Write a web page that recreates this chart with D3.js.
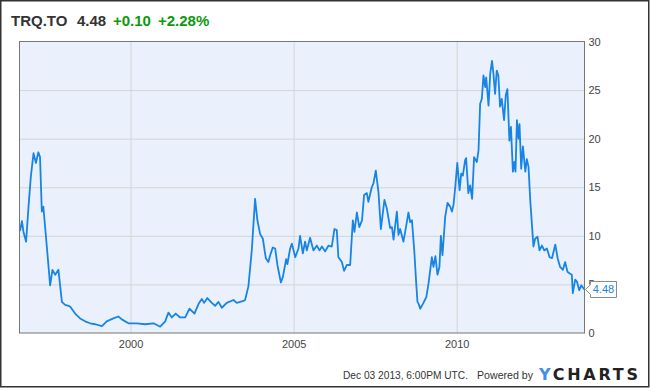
<!DOCTYPE html>
<html>
<head>
<meta charset="utf-8">
<script src="https://cdn.jsdelivr.net/npm/d3@7"></script>
<style>
  html, body { margin: 0; padding: 0; background: #fff; }
  svg { display: block; font-family: "Liberation Sans", Arial, sans-serif; }
</style>
</head>
<body>
<svg id="chart" width="650" height="388"></svg>
<script>
// ---- data ----
const ticker = "TRQ.TO";
const lastPrice = "4.48";
const change = "+0.10";
const changePct = "+2.28%";
const timestamp = "Dec 03 2013, 6:00PM UTC.";
const poweredBy = "Powered by";
const xTickYears = [2000, 2005, 2010];
const yTicks = [0, 5, 10, 15, 20, 25, 30];
const domainDates = ["1996-08-05", "2013-12-03"];
const dates = [
  "1996-08-05","1996-08-13","1996-09-01","1996-09-19","1996-10-18","1996-11-14","1996-12-10",
  "1997-01-09","1997-02-05","1997-03-04","1997-03-23","1997-04-12","1997-04-29","1997-06-07",
  "1997-07-14","1997-08-09","1997-09-09","1997-10-15","1997-11-23","1997-12-29","1998-02-06",
  "1998-02-25","1998-04-20","1998-06-15","1998-08-10","1998-10-05","1998-12-01","1999-02-14",
  "1999-04-09","1999-06-22","1999-08-17","1999-09-25","1999-12-08","2000-03-11","2000-06-12",
  "2000-09-14","2000-11-28","2001-01-23","2001-02-28","2001-04-07","2001-05-21","2001-07-09",
  "2001-09-04","2001-10-22","2001-12-17","2002-02-01","2002-03-09","2002-04-04","2002-05-10",
  "2002-06-29","2002-08-05","2002-09-12","2002-10-19","2002-12-14","2003-02-27","2003-04-05",
  "2003-06-18","2003-07-07","2003-08-13","2003-09-20","2003-10-27","2003-11-22","2003-12-22",
  "2004-01-22","2004-02-24","2004-03-24","2004-04-13","2004-05-12","2004-06-08","2004-07-03",
  "2004-08-11","2004-09-03","2004-10-09","2004-10-23","2004-11-23","2004-12-12","2005-01-19",
  "2005-02-24","2005-03-14","2005-04-14","2005-05-09","2005-05-28","2005-07-04","2005-08-11",
  "2005-09-18","2005-10-17","2005-11-14","2005-12-20","2006-01-27","2006-03-04","2006-04-03",
  "2006-04-29","2006-05-17","2006-06-25","2006-07-20","2006-08-20","2006-09-26","2006-10-26",
  "2006-11-13","2006-12-10","2007-01-06","2007-02-06","2007-03-01","2007-04-01","2007-04-18",
  "2007-05-26","2007-06-14","2007-07-10","2007-08-09","2007-09-05","2007-10-15","2007-11-11",
  "2007-12-18","2008-01-07","2008-01-25","2008-03-02","2008-03-20","2008-04-08","2008-05-15",
  "2008-06-14","2008-07-10","2008-07-29","2008-08-18","2008-09-13","2008-10-05","2008-10-19",
  "2008-11-01","2008-11-19","2008-12-19","2009-01-26","2009-02-20","2009-03-29","2009-04-16",
  "2009-05-08","2009-05-31","2009-06-22","2009-07-08","2009-07-26","2009-08-26","2009-09-21",
  "2009-10-21","2009-11-09","2009-11-27","2009-12-16","2010-01-08","2010-02-03","2010-02-21",
  "2010-03-11","2010-04-06","2010-04-17","2010-05-12","2010-06-01","2010-06-23","2010-07-15",
  "2010-08-15","2010-09-03","2010-09-21","2010-10-10","2010-10-28","2010-11-17","2010-11-28",
  "2010-12-24","2011-01-12","2011-02-01","2011-02-17","2011-03-07","2011-03-26","2011-04-13",
  "2011-05-02","2011-05-21","2011-06-16","2011-07-05","2011-07-23","2011-08-15","2011-09-01",
  "2011-09-23","2011-10-10","2011-10-22","2011-11-07","2011-11-25","2011-12-06","2011-12-25",
  "2012-01-13","2012-02-09","2012-02-26","2012-03-16","2012-04-04","2012-05-10","2012-05-29",
  "2012-06-25","2012-07-17","2012-08-13","2012-09-08","2012-10-08","2012-11-07","2012-12-04",
  "2013-01-10","2013-02-05","2013-03-05","2013-04-05","2013-04-30","2013-05-26","2013-06-25",
  "2013-07-14","2013-07-25","2013-08-21","2013-09-09","2013-10-05","2013-10-28","2013-11-22",
  "2013-12-03"
];
const prices = [
  10.5,10.6,11.5,10.4,9.4,13.0,16.1,
  18.5,17.5,18.6,18.1,12.5,13.0,8.9,
  4.9,6.5,6.0,6.5,3.2,2.9,2.8,
  2.7,2.0,1.5,1.2,1.0,0.9,0.7,
  1.2,1.5,1.7,1.4,1.0,1.0,0.9,
  1.0,0.65,1.2,2.1,1.6,2.0,1.6,
  1.6,2.5,2.0,3.0,3.5,3.1,3.6,
  3.1,2.8,3.2,2.6,3.1,3.4,3.1,
  3.3,3.4,4.8,8.5,13.8,11.6,10.2,
  9.7,7.7,7.3,8.0,8.8,8.7,7.0,
  5.2,5.8,7.6,7.1,8.7,9.2,7.8,
  8.7,10.0,8.2,9.4,8.5,9.8,8.5,
  9.0,8.5,8.9,8.4,9.0,8.9,10.7,
  10.6,7.8,7.3,6.4,7.0,7.0,11.6,
  10.4,12.4,10.9,11.6,14.2,14.4,13.5,
  15.0,15.4,16.7,14.5,10.7,13.7,12.8,
  10.8,10.9,9.6,12.5,10.1,10.7,9.4,
  11.0,12.4,11.4,11.6,8.5,5.1,3.2,
  3.0,2.5,3.0,3.7,5.1,7.8,6.8,
  7.9,6.0,6.8,10.0,8.0,12.0,13.4,
  13.0,12.5,13.2,15.0,17.5,14.7,16.4,
  16.2,17.8,18.0,14.4,15.2,13.8,18.1,
  17.6,18.8,23.6,24.1,26.5,25.3,26.3,
  23.4,26.7,28.0,26.7,24.6,27.0,26.5,
  23.3,24.1,21.9,24.5,25.1,19.8,21.2,
  16.6,17.6,16.6,21.9,20.0,21.5,16.9,
  19.2,16.6,17.9,17.1,13.7,8.9,9.7,
  9.9,8.5,9.0,8.5,8.7,7.8,7.7,
  9.1,7.7,6.8,6.5,7.3,6.3,6.1,
  6.0,4.1,5.5,5.3,4.4,4.9,4.6,
  4.48
];

// ---- layout ----
const svg = d3.select("#chart");
const W = 650, H = 388;
const plot = { left: 19.5, right: 584.5, top: 41.5, bottom: 333 };
const parse = d3.timeParse("%Y-%m-%d");
const series = dates.map((d, i) => ({ date: parse(d), value: prices[i] }));

const x = d3.scaleTime().domain(domainDates.map(parse)).range([plot.left, plot.right]);
const y = d3.scaleLinear().domain([0, 30]).range([plot.bottom, plot.top]);

// outer frame
svg.append("rect").attr("x", 0.75).attr("y", 0.75).attr("width", W - 2).attr("height", H - 2)
  .attr("fill", "#fff").attr("stroke", "#333").attr("stroke-width", 1.5);

// plot background
svg.append("rect").attr("x", plot.left).attr("y", plot.top)
  .attr("width", plot.right - plot.left).attr("height", plot.bottom - plot.top)
  .attr("fill", "#eaf1fc");

// gridlines
const yGridAxis = d3.axisRight(y).tickValues(yTicks.filter(v => v > 0 && v < 30))
  .tickSize(-(plot.right - plot.left)).tickFormat("");
const gy = svg.append("g").attr("transform", `translate(${plot.right},0)`).call(yGridAxis);
gy.select(".domain").remove();
gy.selectAll("line").attr("stroke", "#d4d4d4").attr("stroke-width", 1);

const xGridAxis = d3.axisBottom(x).tickValues(xTickYears.map(yr => new Date(yr, 0, 1)))
  .tickSize(-(plot.bottom - plot.top)).tickFormat("");
const gx = svg.append("g").attr("transform", `translate(0,${plot.bottom})`).call(xGridAxis);
gx.select(".domain").remove();
gx.selectAll("line").attr("stroke", "#d4d4d4").attr("stroke-width", 1);

// line
const line = d3.line().x(d => x(d.date)).y(d => y(d.value));
svg.append("path").datum(series).attr("d", line)
  .attr("fill", "none").attr("stroke", "#1784e6").attr("stroke-width", 1.8)
  .attr("stroke-linejoin", "round");

// plot border
svg.append("rect").attr("x", plot.left).attr("y", plot.top)
  .attr("width", plot.right - plot.left).attr("height", plot.bottom - plot.top)
  .attr("fill", "none").attr("stroke", "#777").attr("stroke-width", 1);

// y axis labels
const yAxis = d3.axisRight(y).tickValues(yTicks).tickSize(0).tickPadding(4);
const ya = svg.append("g").attr("transform", `translate(${plot.right},0)`).call(yAxis);
ya.select(".domain").remove();
ya.selectAll("text").attr("font-size", 11).attr("fill", "#444")
  .attr("font-family", "'Liberation Sans', Arial, sans-serif");

// x axis labels
const xAxis = d3.axisBottom(x).tickValues(xTickYears.map(yr => new Date(yr, 0, 1)))
  .tickSize(0).tickPadding(7).tickFormat(d3.timeFormat("%Y"));
const xa = svg.append("g").attr("transform", `translate(0,${plot.bottom})`).call(xAxis);
xa.select(".domain").remove();
xa.selectAll("text").attr("font-size", 11).attr("fill", "#444")
  .attr("font-family", "'Liberation Sans', Arial, sans-serif");

// last value callout
const last = series[series.length - 1];
const ly = y(last.value);
const bx = plot.right + 6, bw = 26, bh = 16;
svg.append("path")
  .attr("d", `M${plot.right + 1},${ly} L${bx},${ly - 5} L${bx},${ly - bh / 2} L${bx + bw},${ly - bh / 2} L${bx + bw},${ly + bh / 2} L${bx},${ly + bh / 2} L${bx},${ly + 5} Z`)
  .attr("fill", "#fff").attr("stroke", "#888").attr("stroke-width", 1);
svg.append("text").attr("x", bx + bw / 2).attr("y", ly + 4).attr("text-anchor", "middle")
  .attr("font-size", 11).attr("fill", "#1784e6").text(lastPrice);

// title
const title = svg.append("text").attr("x", 11).attr("y", 26)
  .attr("font-size", 15).attr("font-weight", "bold");
title.append("tspan").attr("fill", "#333").text(ticker);
title.append("tspan").attr("x", 77).attr("fill", "#333").text(lastPrice);
title.append("tspan").attr("x", 113).attr("fill", "#0c9a0c").text(change);
title.append("tspan").attr("x", 158).attr("fill", "#0c9a0c").text(changePct);

// footer
svg.append("text").attr("x", 343).attr("y", 379)
  .attr("font-size", 11).attr("fill", "#333")
  .attr("textLength", 125).attr("lengthAdjust", "spacingAndGlyphs")
  .text(timestamp);
svg.append("text").attr("x", 477).attr("y", 379)
  .attr("font-size", 11).attr("fill", "#333")
  .attr("textLength", 56).attr("lengthAdjust", "spacingAndGlyphs")
  .text(poweredBy);
const logo = svg.append("text").attr("x", 539).attr("y", 380)
  .attr("font-size", 16).attr("font-weight", "bold")
  .attr("textLength", 99).attr("lengthAdjust", "spacing")
  .attr("font-family", "'DejaVu Sans', Arial, sans-serif");
logo.append("tspan").attr("fill", "#3d8fe8").text("Y");
logo.append("tspan").attr("fill", "#222").text("CHARTS");
</script>
</body>
</html>
